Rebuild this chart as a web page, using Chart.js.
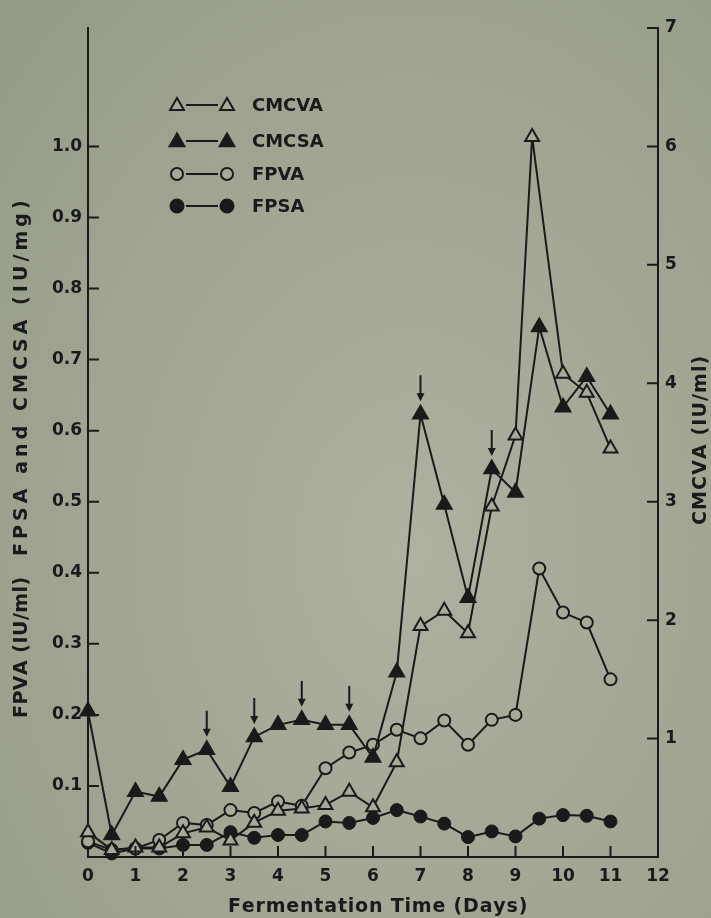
<!DOCTYPE html>
<html>
<head>
<meta charset="utf-8">
<script src="https://cdn.jsdelivr.net/npm/chart.js@4.4.0/dist/chart.umd.min.js"></script>
<style>
  html, body { margin: 0; padding: 0; }
  body {
    width: 711px; height: 918px; overflow: hidden;
    background: radial-gradient(ellipse at 58% 60%, #adb1a0 0%, #a3a895 45%, #939b86 100%);
  }
  #wrap { position: relative; width: 711px; height: 918px; }
</style>
</head>
<body>
<div id="wrap"><canvas id="chart" width="711" height="918"></canvas></div>
<script>
  'use strict';

  /* sampling days (fermentation time) */
  var days = [0, 0.5, 1, 1.5, 2, 2.5, 3, 3.5, 4, 4.5, 5, 5.5, 6, 6.5, 7, 7.5, 8, 8.5, 9, 9.5, 10, 10.5, 11];
  var cmcvaDays = [0, 0.5, 1, 1.5, 2, 2.5, 3, 3.5, 4, 4.5, 5, 5.5, 6, 6.5, 7, 7.5, 8, 8.5, 9, 9.35, 10, 10.5, 11];

  /* CMCVA on the right axis (IU/ml) */
  var cmcva = [0.21, 0.06, 0.08, 0.08, 0.20, 0.25, 0.14, 0.29, 0.39, 0.41, 0.44, 0.55, 0.42, 0.80,
               1.95, 2.08, 1.89, 2.96, 3.56, 6.08, 4.08, 3.92, 3.45];
  /* left axis series */
  var cmcsa = [0.205, 0.031, 0.092, 0.085, 0.137, 0.151, 0.099, 0.169, 0.186, 0.193, 0.186, 0.186,
               0.140, 0.260, 0.623, 0.496, 0.365, 0.546, 0.513, 0.746, 0.633, 0.676, 0.623];
  var fpva = [0.022, 0.010, 0.012, 0.024, 0.048, 0.045, 0.066, 0.062, 0.078, 0.072, 0.125, 0.147,
              0.158, 0.179, 0.167, 0.192, 0.158, 0.193, 0.200, 0.406, 0.344, 0.330, 0.250];
  var fpsa = [0.020, 0.005, 0.012, 0.012, 0.017, 0.017, 0.035, 0.027, 0.031, 0.031, 0.050, 0.048,
              0.055, 0.066, 0.057, 0.047, 0.028, 0.036, 0.029, 0.054, 0.059, 0.058, 0.050];

  /* days marked with an arrow above the CMCSA point */
  var arrowDays = [2.5, 3.5, 4.5, 5.5, 7, 8.5];

  /* tick labels */
  var xTicks = [0, 1, 2, 3, 4, 5, 6, 7, 8, 9, 10, 11, 12];
  var leftTicks = [0.1, 0.2, 0.3, 0.4, 0.5, 0.6, 0.7, 0.8, 0.9, 1.0];
  var rightTicks = [1, 2, 3, 4, 5, 6, 7];

  var INK = '#1a1a1a';
  var PAPER = '#a6ab98';
  var FONT = '"DejaVu Sans", sans-serif';

  function pts(xs, ys) {
    return xs.map(function (x, i) { return { x: x, y: ys[i] }; });
  }

  /* text drawn char by char with extra spacing so it fills a given length */
  function spaced(ctx, text, x0, y, len) {
    var w = ctx.measureText(text).width;
    var gap = text.length > 1 ? (len - w) / (text.length - 1) : 0;
    var cx = x0;
    for (var i = 0; i < text.length; i++) {
      ctx.fillText(text[i], cx, y);
      cx += ctx.measureText(text[i]).width + gap;
    }
  }

  /* inward tick marks on the three axes */
  var inTicks = {
    id: 'inTicks',
    afterDraw: function (chart) {
      var ctx = chart.ctx, a = chart.chartArea, s = chart.scales;
      ctx.save();
      ctx.strokeStyle = INK; ctx.lineWidth = 2;
      ctx.beginPath();
      xTicks.forEach(function (v) {
        if (v === 0 || v === 12) return;
        var px = s.x.getPixelForValue(v);
        ctx.moveTo(px, a.bottom); ctx.lineTo(px, a.bottom - 11);
      });
      leftTicks.forEach(function (v) {
        var py = s.y.getPixelForValue(v);
        ctx.moveTo(a.left, py); ctx.lineTo(a.left + 11, py);
      });
      rightTicks.forEach(function (v) {
        var py = s.y2.getPixelForValue(v);
        ctx.moveTo(a.right, py); ctx.lineTo(a.right - 11, py);
      });
      ctx.stroke();
      ctx.restore();
    }
  };

  /* arrows above selected CMCSA points */
  var arrows = {
    id: 'arrows',
    afterDatasetsDraw: function (chart) {
      var ctx = chart.ctx, s = chart.scales;
      ctx.save();
      ctx.strokeStyle = INK; ctx.fillStyle = INK; ctx.lineWidth = 2;
      arrowDays.forEach(function (d) {
        var i = days.indexOf(d);
        var px = s.x.getPixelForValue(d);
        var tip = s.y.getPixelForValue(cmcsa[i]) - 13;
        ctx.beginPath();
        ctx.moveTo(px, tip - 26); ctx.lineTo(px, tip - 6);
        ctx.stroke();
        ctx.beginPath();
        ctx.moveTo(px - 4, tip - 8); ctx.lineTo(px + 4, tip - 8); ctx.lineTo(px, tip);
        ctx.closePath(); ctx.fill();
      });
      ctx.restore();
    }
  };

  /* axis titles and the in-plot key */
  var legendRows = [
    { label: 'CMCVA', style: 'triangle', r: 8, fill: PAPER },
    { label: 'CMCSA', style: 'triangle', r: 8.5, fill: INK },
    { label: 'FPVA', style: 'circle', r: 6, fill: PAPER },
    { label: 'FPSA', style: 'circle', r: 6.5, fill: INK }
  ];

  var annot = {
    id: 'annot',
    afterDraw: function (chart) {
      var ctx = chart.ctx;
      ctx.save();
      ctx.fillStyle = INK;
      ctx.font = 'bold 19px ' + FONT;
      ctx.textBaseline = 'middle';
      ctx.textAlign = 'left';

      /* x title */
      spaced(ctx, 'Fermentation Time (Days)', 228, 907, 298);

      /* left title, reads upward */
      ctx.save();
      ctx.translate(22, 0);
      ctx.rotate(-Math.PI / 2);
      spaced(ctx, 'FPVA (IU/ml)', -718, 0, 140);
      spaced(ctx, 'FPSA and CMCSA (IU/mg)', -556, 0, 356);
      ctx.restore();

      /* right title, reads upward */
      ctx.save();
      ctx.translate(701, 0);
      ctx.rotate(-Math.PI / 2);
      spaced(ctx, 'CMCVA (IU/ml)', -525, 0, 168);
      ctx.restore();

      /* key */
      ctx.font = 'bold 18px ' + FONT;
      var ys = [105, 141, 174, 206];
      legendRows.forEach(function (row, k) {
        var y = ys[k];
        ctx.strokeStyle = INK; ctx.lineWidth = 2;
        ctx.beginPath(); ctx.moveTo(186, y); ctx.lineTo(218, y); ctx.stroke();
        [177, 227].forEach(function (x) {
          ctx.fillStyle = row.fill;
          Chart.helpers.drawPoint(ctx, { pointStyle: row.style, radius: row.r, borderWidth: 2, rotation: 0 }, x, y + (row.style === 'triangle' ? 1 : 0));
        });
        ctx.fillStyle = INK;
        ctx.fillText(row.label, 252, y + 1);
      });
      ctx.restore();
    }
  };

  var tickFont = { family: FONT, size: 17, weight: 'bold' };

  new Chart(document.getElementById('chart').getContext('2d'), {
    type: 'line',
    data: {
      datasets: [
        { label: 'CMCVA', yAxisID: 'y2', data: pts(cmcvaDays, cmcva), pointStyle: 'triangle', pointRadius: 8,
          pointBackgroundColor: PAPER, pointBorderColor: INK, pointBorderWidth: 2, borderColor: INK, borderWidth: 2, clip: false },
        { label: 'CMCSA', yAxisID: 'y', data: pts(days, cmcsa), pointStyle: 'triangle', pointRadius: 8.5,
          pointBackgroundColor: INK, pointBorderColor: INK, pointBorderWidth: 2, borderColor: INK, borderWidth: 2, clip: false },
        { label: 'FPVA', yAxisID: 'y', data: pts(days, fpva), pointStyle: 'circle', pointRadius: 6,
          pointBackgroundColor: PAPER, pointBorderColor: INK, pointBorderWidth: 2, borderColor: INK, borderWidth: 2, clip: false },
        { label: 'FPSA', yAxisID: 'y', data: pts(days, fpsa), pointStyle: 'circle', pointRadius: 6.5,
          pointBackgroundColor: INK, pointBorderColor: INK, pointBorderWidth: 1, borderColor: INK, borderWidth: 2, clip: false }
      ]
    },
    options: {
      responsive: false,
      animation: false,
      devicePixelRatio: 1,
      layout: { padding: { top: 28, left: 0, right: 0, bottom: 0 } },
      plugins: { legend: { display: false }, tooltip: { enabled: false } },
      elements: { line: { tension: 0 } },
      scales: {
        x: {
          type: 'linear', position: 'bottom', min: 0, max: 12,
          afterFit: function (s) { s.height = 61; },
          afterBuildTicks: function (s) { s.ticks = xTicks.map(function (v) { return { value: v }; }); },
          grid: { drawOnChartArea: false, drawTicks: false },
          border: { color: INK, width: 2 },
          ticks: { color: INK, font: tickFont, padding: 9, autoSkip: false, maxRotation: 0 }
        },
        y: {
          type: 'linear', position: 'left', min: 0, max: 7 / 6,
          afterFit: function (s) { s.width = 88; },
          afterBuildTicks: function (s) { s.ticks = leftTicks.map(function (v) { return { value: v }; }); },
          grid: { drawOnChartArea: false, drawTicks: false },
          border: { color: INK, width: 2 },
          ticks: { color: INK, font: tickFont, padding: 6, callback: function (v) { return v.toFixed(1); } }
        },
        y2: {
          type: 'linear', position: 'right', min: 0, max: 7,
          afterFit: function (s) { s.width = 53; },
          afterBuildTicks: function (s) { s.ticks = rightTicks.map(function (v) { return { value: v }; }); },
          grid: { drawOnChartArea: false, drawTicks: false },
          border: { color: INK, width: 2 },
          ticks: { color: INK, font: tickFont, padding: 7, callback: function (v) { return String(v); } }
        }
      }
    },
    plugins: [inTicks, arrows, annot]
  });
</script>
</body>
</html>
